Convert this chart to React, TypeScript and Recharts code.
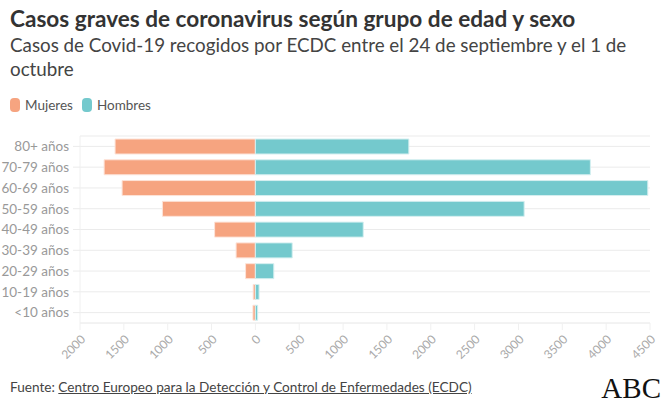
import {Bar, BarChart, CartesianGrid, XAxis, YAxis} from "recharts";

const ageGroups = ["80+ años", "70-79 años", "60-69 años", "50-59 años", "40-49 años", "30-39 años", "20-29 años", "10-19 años", "<10 años"];
const mujeres = [1600, 1725, 1520, 1060, 465, 220, 112, 25, 28];
const hombres = [1750, 3820, 4475, 3065, 1230, 420, 210, 42, 26];
const xTicks = [-2000, -1500, -1000, -500, 0, 500, 1000, 1500, 2000, 2500, 3000, 3500, 4000, 4500];

const data = ageGroups.map((name, i) => ({name, mujeres: -mujeres[i], hombres: hombres[i]}));

const font = "'Source Sans Pro', Lato, 'Open Sans', sans-serif";

function AngledTick({x, y, payload}: any) {
    return (
        <text x={x + 4} y={y + 6} transform={`rotate(-45, ${x + 4}, ${y + 6})`} textAnchor="end"
              dominantBaseline="middle" fontSize={12} fill="#aaa" fontFamily={font}>
            {Math.abs(payload.value)}
        </text>
    );
}

export default function App() {
    return (
        <div style={{position: "absolute", left: 0, top: 0, width: 667, height: 409, background: "#fff", fontFamily: font}}>
            <div style={{position: "absolute", left: 10, top: 5, fontSize: 22.6, fontWeight: 700, color: "#333"}}>
                Casos graves de coronavirus según grupo de edad y sexo
            </div>
            <div style={{position: "absolute", left: 10, top: 33, width: 650, fontSize: 18.8, lineHeight: "24px", color: "#444"}}>
                Casos de Covid-19 recogidos por ECDC entre el 24 de septiembre y el 1 de octubre
            </div>
            <div style={{position: "absolute", left: 10, top: 97, display: "flex", alignItems: "center", fontSize: 13.5, color: "#555"}}>
                <span style={{width: 10, height: 14, borderRadius: 4, background: "#f6a480", marginRight: 5}}></span>
                <span style={{marginRight: 9}}>Mujeres</span>
                <span style={{width: 10, height: 14, borderRadius: 4, background: "#74c9cd", marginRight: 5}}></span>
                <span>Hombres</span>
            </div>
            <div style={{position: "absolute", left: 0, top: 0}}>
                <BarChart width={667} height={409} data={data} layout="vertical" stackOffset="sign"
                          margin={{top: 136, right: 17, left: 0, bottom: 0}}>
                    <CartesianGrid horizontal={true} vertical={false} stroke="#ebebeb"/>
                    <XAxis type="number" domain={[-2000, 4500]} ticks={xTicks} interval={0} height={86}
                           axisLine={{stroke: "#f0f0f0"}} tickLine={{stroke: "#f0f0f0"}} tickSize={7}
                           tick={<AngledTick/>}/>
                    <YAxis type="category" dataKey="name" width={80} interval={0} axisLine={{stroke: "#f0f0f0"}}
                           tickLine={{stroke: "#ebebeb"}} tickSize={7} tickMargin={4}
                           tick={{fontSize: 13.5, fill: "#999", fontFamily: font}}/>
                    <Bar dataKey="mujeres" stackId="a" fill="#f6a480" stroke="#fde3d8" strokeWidth={1} barSize={15} isAnimationActive={false}/>
                    <Bar dataKey="hombres" stackId="a" fill="#74c9cd" stroke="#d5eff0" strokeWidth={1} barSize={15} isAnimationActive={false}/>
                </BarChart>
            </div>
            <div style={{position: "absolute", left: 10, top: 379, fontSize: 13.6, color: "#444"}}>
                Fuente: <span style={{textDecoration: "underline"}}>Centro Europeo para la Detección y Control de Enfermedades (ECDC)</span>
            </div>
            <div style={{position: "absolute", right: 6, top: 372, fontSize: 29, fontFamily: "'Liberation Serif', serif", color: "#111"}}>
                ABC
            </div>
        </div>
    );
}
